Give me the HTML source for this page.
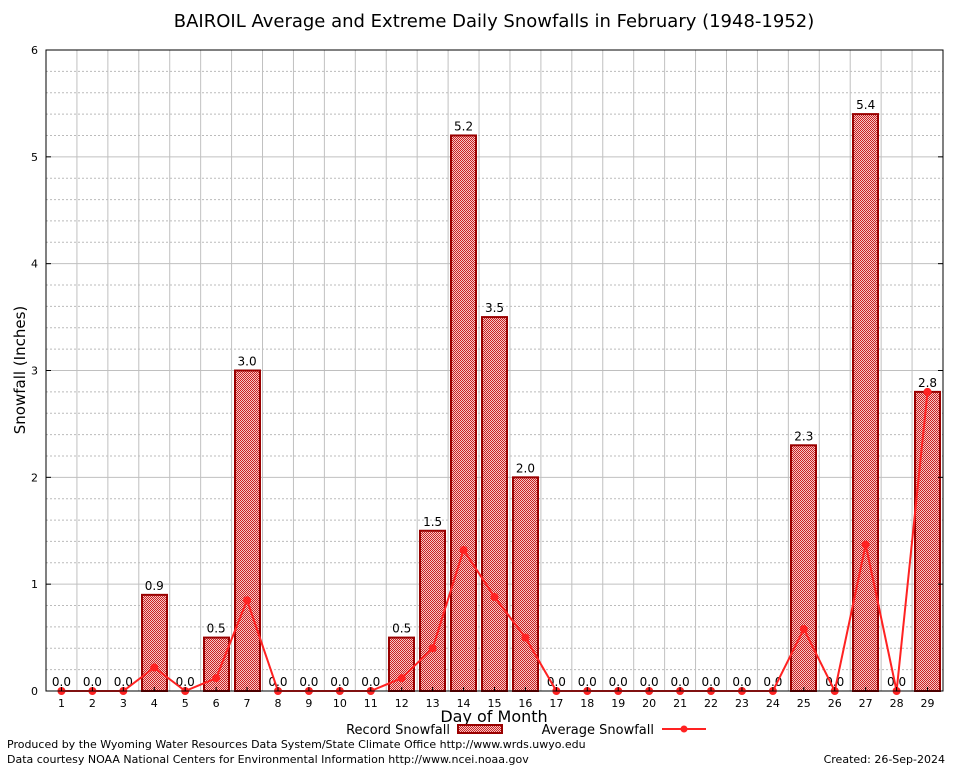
<!DOCTYPE html>
<html><head><meta charset="utf-8"><style>
body{margin:0;background:#fff;}
svg text{font-family:"DejaVu Sans","Liberation Sans",sans-serif;}
</style></head><body>
<svg id="c" width="954" height="768" xmlns="http://www.w3.org/2000/svg">
<defs>
<pattern id="chk" width="2" height="2" patternUnits="userSpaceOnUse" shape-rendering="crispEdges">
<rect width="2" height="2" fill="#f4c8c8"/>
<rect width="1" height="1" fill="#cc2020"/>
<rect x="1" y="1" width="1" height="1" fill="#cc2020"/>
</pattern>
</defs>
<rect x="0" y="0" width="954" height="768" fill="#fff"/>
<text x="494" y="27" font-size="18" text-anchor="middle">BAIROIL Average and Extreme Daily Snowfalls in February (1948-1952)</text>
<g id="grid"></g>
<g id="bars"></g>
<g id="line"></g>
<g id="axes"></g>
<text x="25" y="370" font-size="15" text-anchor="middle" transform="rotate(-90 25 370)">Snowfall (Inches)</text>
<text x="494" y="722" font-size="16" text-anchor="middle">Day of Month</text>
<g>
<text x="450" y="734" font-size="13" text-anchor="end">Record Snowfall</text>
<rect x="458" y="725" width="44" height="8" fill="url(#chk)" stroke="#990000" stroke-width="2"/>
<text x="654" y="734" font-size="13" text-anchor="end">Average Snowfall</text>
<line x1="662" y1="729" x2="706" y2="729" stroke="#f22" stroke-width="2"/>
<circle cx="684" cy="729" r="3.5" fill="#f22"/>
</g>
<text x="7" y="748" font-size="11">Produced by the Wyoming Water Resources Data System/State Climate Office http://www.wrds.uwyo.edu</text>
<text x="7" y="763" font-size="11">Data courtesy NOAA National Centers for Environmental Information http://www.ncei.noaa.gov</text>
<text x="945" y="763" font-size="11" text-anchor="end">Created:  26-Sep-2024</text>
</svg>
<script>
const days=[1,2,3,4,5,6,7,8,9,10,11,12,13,14,15,16,17,18,19,20,21,22,23,24,25,26,27,28,29];
const recordSnow=[0,0,0,0.9,0,0.5,3.0,0,0,0,0,0.5,1.5,5.2,3.5,2.0,0,0,0,0,0,0,0,0,2.3,0,5.4,0,2.8];
const avgSnow=[0,0,0,0.22,0,0.12,0.85,0,0,0,0,0.12,0.4,1.32,0.88,0.5,0,0,0,0,0,0,0,0,0.58,0,1.37,0,2.8];
const yTicks=[0,1,2,3,4,5,6];
const L=46,R=943,T=50,B=691,yMax=6;
const cw=(R-L)/days.length;
const xs=i=>L+cw*(i+0.5);
const ys=v=>B-(v/yMax)*(B-T);
const NS="http://www.w3.org/2000/svg";
function mk(p,t,a){const e=document.createElementNS(NS,t);for(const k in a)e.setAttribute(k,a[k]);p.appendChild(e);return e;}
const grid=document.getElementById('grid'),bars=document.getElementById('bars'),line=document.getElementById('line'),axes=document.getElementById('axes');
for(let v=0;v<yMax;v+=0.2){const y=ys(v);if(Math.abs(v-Math.round(v))>0.01){const g=mk(grid,'line',{x1:L,x2:R,y1:y,y2:y,stroke:'#bbb','stroke-dasharray':'2,2','stroke-width':1});

}}
yTicks.forEach(v=>{const y=ys(v);const g=mk(grid,'line',{x1:L,x2:R,y1:y,y2:y,stroke:'#c0c0c0','stroke-width':1});


const t=mk(axes,'text',{x:L-8,y:y+4,'font-size':11,'text-anchor':'end'});t.textContent=v;


mk(axes,'line',{x1:L,x2:L+5,y1:y,y2:y,stroke:'#000'});mk(axes,'line',{x1:R-5,x2:R,y1:y,y2:y,stroke:'#000'});});
for(let i=1;i<days.length;i++){const x=L+cw*i;const g=mk(grid,'line',{x1:x,x2:x,y1:T,y2:B,stroke:'#c0c0c0','stroke-width':1});

}
days.forEach((d,i)=>{const v=recordSnow[i];const x=xs(i);
if(v>0){const r=mk(bars,'rect',{x:Math.round(x-12.5),y:ys(v),width:25,height:B-ys(v),fill:'url(#chk)',stroke:'#990000','stroke-width':2});

}
const t=mk(bars,'text',{x:x,y:ys(v)-5,'font-size':12,'text-anchor':'middle'});t.textContent=v.toFixed(1);


const tl=mk(axes,'text',{x:x,y:B+16,'font-size':11,'text-anchor':'middle','font-family':'DejaVu Serif,serif'});tl.textContent=d;


mk(axes,'line',{x1:x,x2:x,y1:B,y2:B-4,stroke:'#000'});});
const pts=avgSnow.map((v,i)=>xs(i)+','+ys(v)).join(' ');
const pl=mk(line,'polyline',{points:pts,fill:'none',stroke:'#f22','stroke-width':2});


avgSnow.forEach((v,i)=>{const c=mk(line,'circle',{cx:xs(i),cy:ys(v),r:4,fill:'#f22'});

});
const f=mk(axes,'rect',{x:L,y:T,width:R-L,height:B-T,fill:'none',stroke:'#000','stroke-width':1});


</script>
</body></html>
